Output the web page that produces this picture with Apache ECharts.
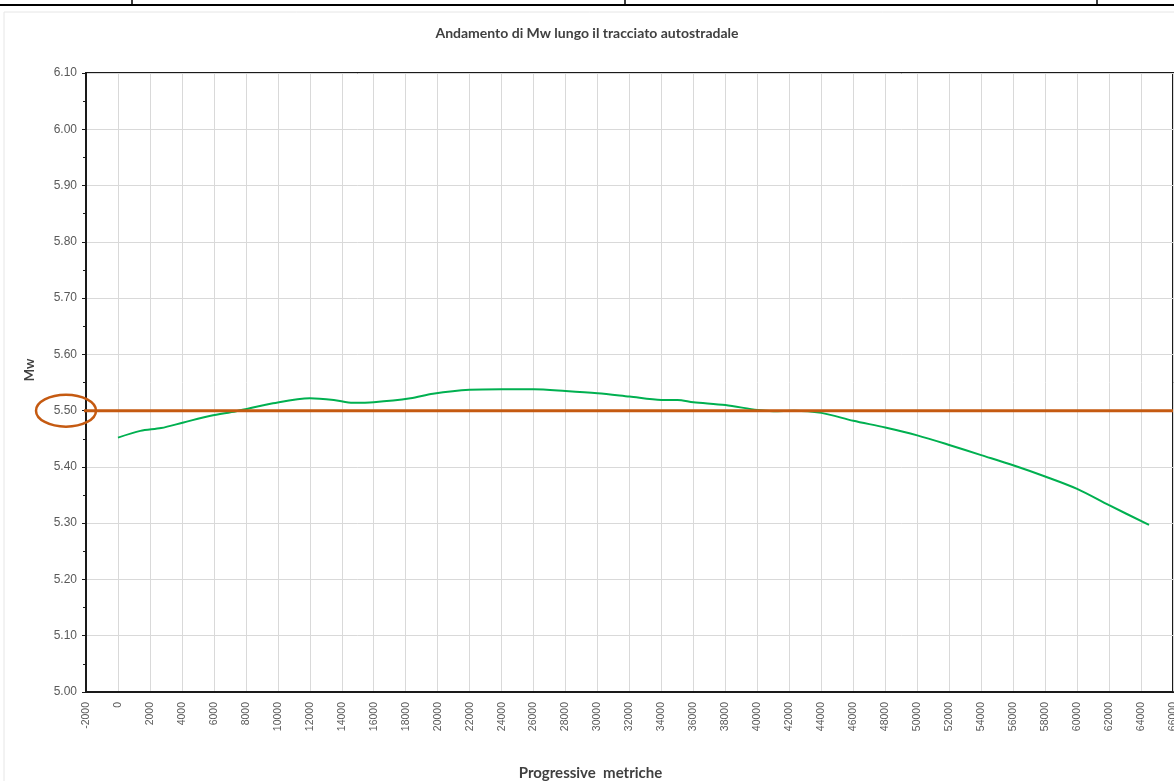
<!DOCTYPE html>
<html>
<head>
<meta charset="utf-8">
<script src="https://cdn.jsdelivr.net/npm/echarts@6/dist/echarts.min.js"></script>
<style>
html,body{margin:0;padding:0;background:#fff;overflow:hidden;width:100%;height:100%;}
#chart{width:100vw;height:100vh;}
</style>
</head>
<body>
<div id="chart"></div>
<script>
// Progressive distance (m) along the motorway
const progressive = [0, 1400, 2700, 4100, 5800, 7400, 9700, 12000, 13500, 14700, 16000, 18300, 19700, 22000, 24000, 26000, 28000, 30000, 32000, 34000, 35000, 36000, 38000, 40000, 41000, 42300, 44000, 46000, 48000, 50000, 52000, 54000, 56000, 58000, 60000, 62000, 64500];
// Mw values
const mw = [5.452, 5.464, 5.469, 5.479, 5.491, 5.499, 5.513, 5.522, 5.519, 5.514, 5.515, 5.522, 5.530, 5.537, 5.538, 5.538, 5.535, 5.531, 5.525, 5.519, 5.519, 5.515, 5.510, 5.501, 5.499, 5.500, 5.496, 5.482, 5.470, 5.456, 5.439, 5.421, 5.403, 5.383, 5.361, 5.332, 5.297];
// Reference threshold line
const thresholdX = [-2500, 66000];
const thresholdMw = 5.50;

const titleText = 'Andamento di Mw lungo il tracciato autostradale';
const xName = 'Progressive  metriche';
const yName = 'Mw';

const chart = echarts.init(document.getElementById('chart'));
const option = {
  backgroundColor: '#fff',
  animation: false,
  title: {
    text: titleText,
    left: 'center',
    top: 21,
    textStyle: {fontFamily: 'Lato', fontSize: 14, fontWeight: 'bold', color: '#404040'}
  },
  grid: {left: 86, right: 1, top: 73, bottom: 89, containLabel: false, outerBoundsMode: 'none', show: true, borderColor: '#1a1a1a', borderWidth: 2, backgroundColor: 'transparent'},
  xAxis: {
    type: 'value', min: -2000, max: 66000, interval: 2000,
    name: xName, nameLocation: 'middle', nameGap: 74,
    nameTextStyle: {fontFamily: 'Lato', fontSize: 15, fontWeight: 'bold', color: '#404040', padding: [0, 78, 0, 0]},
    axisLine: {show: true, onZero: false, lineStyle: {color: '#1a1a1a', width: 2}},
    axisTick: {show: false},
    axisLabel: {rotate: 90, margin: 10, fontFamily: 'Liberation Sans', fontSize: 10.5, color: '#595959', showMaxLabel: true, showMinLabel: true, formatter: v => String(v)},
    splitLine: {show: true, lineStyle: {color: '#d9d9d9', width: 1}}
  },
  yAxis: {
    type: 'value', min: 5.0, max: 6.1, interval: 0.1,
    name: yName, nameLocation: 'middle', nameGap: 50, nameRotate: 90,
    nameTextStyle: {fontFamily: 'Lato', fontSize: 13, fontWeight: 'bold', color: '#404040', padding: [0, 0, 0, 25]},
    axisLine: {show: true, onZero: false, lineStyle: {color: '#1a1a1a', width: 2}},
    axisTick: {show: true, inside: false, length: 4, lineStyle: {color: '#1a1a1a', width: 1}},
    minorTick: {show: true, splitNumber: 2, length: 3, lineStyle: {color: '#1a1a1a', width: 1}},
    axisLabel: {margin: 9, fontFamily: 'Liberation Sans', fontSize: 12, color: '#595959', formatter: v => v.toFixed(2)},
    splitLine: {show: true, lineStyle: {color: '#d9d9d9', width: 1}}
  },
  series: [
    {
      type: 'line', name: 'Mw',
      data: progressive.map((x, i) => [x, mw[i]]),
      smooth: 0.3, showSymbol: false, z: 3,
      lineStyle: {color: '#00B050', width: 2}
    },
    {
      type: 'line', name: 'soglia',
      data: thresholdX.map(x => [x, thresholdMw]),
      showSymbol: false, clip: false, z: 4,
      lineStyle: {color: '#C55A11', width: 3}
    }
  ]
};
chart.setOption(option);

const cy = chart.convertToPixel({yAxisIndex: 0}, thresholdMw);
const cx = chart.convertToPixel({xAxisIndex: 0}, -2000) - 20;
chart.setOption({
  graphic: [
    {type: 'ellipse', shape: {cx: cx, cy: cy, rx: 30, ry: 16}, style: {fill: 'none', stroke: '#C55A11', lineWidth: 2.5}, z: 10},
    {type: 'rect', shape: {x: 4, y: 12, width: 1180, height: 800}, style: {fill: 'none', stroke: '#e6e6e6', lineWidth: 1}, z: -1},
    {type: 'line', shape: {x1: 0, y1: 5, x2: 1174, y2: 5}, style: {stroke: '#000', lineWidth: 2}},
    {type: 'line', shape: {x1: 132, y1: 0, x2: 132, y2: 5}, style: {stroke: '#000', lineWidth: 1.5}},
    {type: 'line', shape: {x1: 625, y1: 0, x2: 625, y2: 5}, style: {stroke: '#000', lineWidth: 1.5}},
    {type: 'line', shape: {x1: 1097, y1: 0, x2: 1097, y2: 5}, style: {stroke: '#000', lineWidth: 1.5}}
  ]
});
</script>
</body>
</html>
